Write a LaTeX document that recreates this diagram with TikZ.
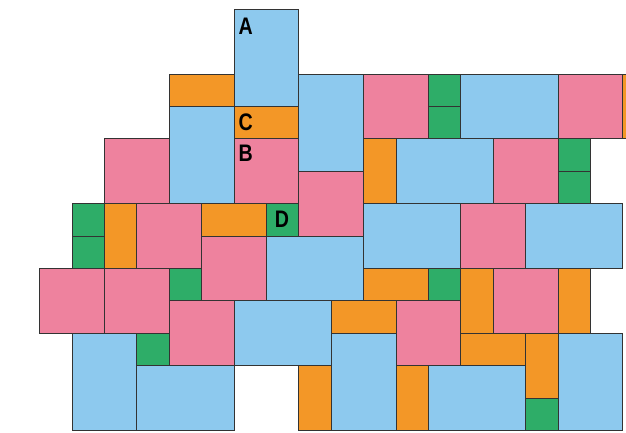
\documentclass[tikz,border=0pt]{standalone}
\usepackage{fontspec}
\newfontfamily\labfont[FakeStretch=0.82]{Liberation Sans}
\definecolor{tblue}{HTML}{8DC9EE}
\definecolor{tpink}{HTML}{EE829E}
\definecolor{torange}{HTML}{F39727}
\definecolor{tgreen}{HTML}{2EAD68}
\tikzset{
  tile/.style={draw=black!80, line width=1pt, line join=miter},
  bluetile/.style={tile, fill=tblue},
  pinktile/.style={tile, fill=tpink},
  orangetile/.style={tile, fill=torange},
  greentile/.style={tile, fill=tgreen},
  lab/.style={anchor=north west, inner sep=0pt, font=\labfont\bfseries\fontsize{21}{21}\selectfont}
}
\begin{document}
\begin{tikzpicture}[x=1cm,y=-1cm]
\useasboundingbox (-1.225,-0.287) rectangle (18.096,13.077);
\clip (-1.225,-0.287) rectangle (18.096,13.077);
% blue
\foreach \a/\b/\c/\d in {6/0/8/3, 8/2/10/5, 4/3/6/6, 13/2/16/4, 11/4/14/6, 10/6/13/8, 15/6/18/8, 7/7/10/9, 6/9/9/11, 9/10/11/13, 16/10/18/13, 12/11/15/13, 1/10/3/13, 3/11/6/13}
  \draw[bluetile] (\a,\b) rectangle (\c,\d);
% pink
\foreach \a/\b/\c/\d in {2/4/4/6, 6/4/8/6, 8/5/10/7, 10/2/12/4, 16/2/18/4, 14/4/16/6, 13/6/15/8, 14/8/16/10, 11/9/13/11, 3/6/5/8, 5/7/7/9, 0/8/2/10, 2/8/4/10, 4/9/6/11}
  \draw[pinktile] (\a,\b) rectangle (\c,\d);
% orange
\foreach \a/\b/\c/\d in {4/2/6/3, 6/3/8/4, 18/2/19/4, 10/4/11/6, 10/8/12/9, 13/8/14/10, 16/8/17/10, 9/9/11/10, 8/11/9/13, 13/10/15/11, 15/10/16/12, 11/11/12/13, 2/6/3/8, 5/6/7/7}
  \draw[orangetile] (\a,\b) rectangle (\c,\d);
% green
\foreach \a/\b/\c/\d in {12/2/13/3, 12/3/13/4, 16/4/17/5, 16/5/17/6, 12/8/13/9, 15/12/16/13, 1/6/2/7, 1/7/2/8, 7/6/8/7, 4/8/5/9, 3/10/4/11}
  \draw[greentile] (\a,\b) rectangle (\c,\d);
% labels
\node[lab] (A) at (6.13,0.25) {A};
\node[lab] (C) at (6.13,3.22) {C};
\node[lab] (B) at (6.13,4.17) {B};
\node[lab] (D) at (7.25,6.23) {D};
\end{tikzpicture}
\end{document}
